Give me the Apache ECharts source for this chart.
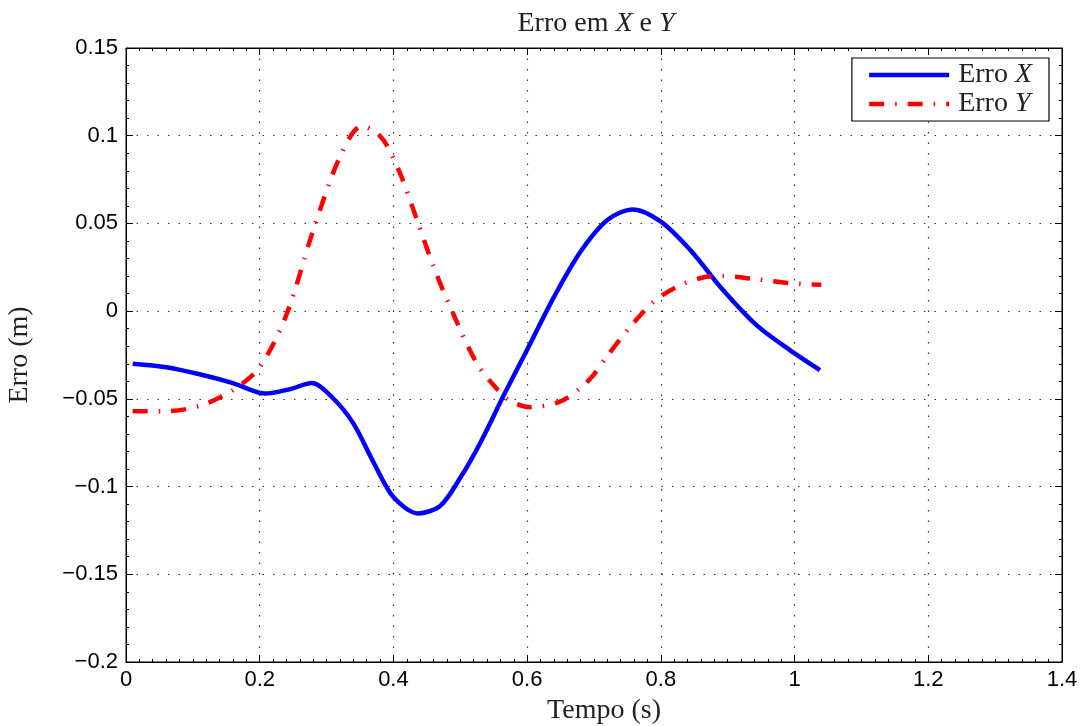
<!DOCTYPE html>
<html><head><meta charset="utf-8">
<script src="https://cdn.jsdelivr.net/npm/echarts@6/dist/echarts.min.js"></script>
<style>html,body{margin:0;padding:0;background:#fff}#c{width:1089px;height:726px}</style>
</head><body><div id="c"></div>
<script>
const tX = [0.01,0.06,0.11,0.16,0.208,0.245,0.278,0.31,0.34,0.37,0.4,0.437,0.47,0.5,0.53,0.565,0.6,0.64,0.68,0.72,0.758,0.8,0.844,0.893,0.943,0.993,1.038];
const errX = [-0.030,-0.032,-0.036,-0.041,-0.047,-0.0445,-0.041,-0.0498,-0.064,-0.086,-0.106,-0.1153,-0.111,-0.095,-0.075,-0.048,-0.022,0.008,0.034,0.052,0.058,0.051,0.0348,0.012,-0.008,-0.0222,-0.0336];
const tY = [0.01,0.06,0.11,0.16,0.2,0.24,0.28,0.32,0.3525,0.375,0.39,0.412,0.437,0.462,0.49,0.525,0.554,0.574,0.605,0.649,0.679,0.699,0.719,0.754,0.789,0.824,0.863,0.894,0.943,0.993,1.04];
const errY = [-0.057,-0.057,-0.054,-0.045,-0.032,-0.002,0.046,0.088,0.1055,0.1017,0.0946,0.0766,0.050,0.0234,-0.002,-0.030,-0.044,-0.051,-0.0548,-0.0516,-0.044,-0.0365,-0.026,-0.009,0.0053,0.0139,0.0192,0.020,0.0182,0.016,0.015];
const seriesNames = ['Erro X','Erro Y'];

const fmt = v => {
  let s = (Math.round(v*100)/100).toString();
  return s.replace('-', '\u2212');
};
const chart = echarts.init(document.getElementById('c'));
const gridLine = {show:true, lineStyle:{color:'#333', type:[1.5,9], width:1.2}};
const serif = 'Liberation Serif';
const tick = {inside:true, length:7, lineStyle:{color:'#000'}};
const minorX = {show:true, splitNumber:10, length:3, lineStyle:{color:'#000'}};
const minorY = {show:true, splitNumber:5, length:3, lineStyle:{color:'#000'}};
chart.setOption({
  animation:false,
  title:{
    text:'{n|Erro em }{i|X}{n| e }{i|Y}',
    left:591, top:5, textAlign:'center',
    textStyle:{fontWeight:'normal', rich:{
      n:{fontFamily:serif, fontSize:28, color:'#222'},
      i:{fontFamily:serif, fontSize:28, fontStyle:'italic', color:'#222'}
    }}
  },
  legend:{
    orient:'vertical', right:40, top:58,
    backgroundColor:'#fff', borderColor:'#000', borderWidth:1.2, borderRadius:0,
    padding:[3,17,3,15], itemGap:1, itemWidth:80, itemHeight:28,
    data:seriesNames,
    itemStyle:{opacity:0},
    lineStyle:{width:4.5},
    formatter: n => '{n|Erro }{i|' + n.slice(5) + '}',
    textStyle:{rich:{
      n:{fontFamily:serif, fontSize:28, lineHeight:28, color:'#222', padding:[0,0,0,4]},
      i:{fontFamily:serif, fontSize:28, lineHeight:28, fontStyle:'italic', color:'#222'}
    }}
  },
  grid:{left:126, right:27, top:48, bottom:64, show:true, borderColor:'#000', borderWidth:1,
        containLabel:false, outerBoundsMode:'none'},
  xAxis:[{
    type:'value', min:0, max:1.4, interval:0.2,
    axisLine:{show:true, onZero:false, lineStyle:{color:'#000'}},
    axisTick:tick, minorTick:minorX,
    axisLabel:{formatter:fmt, fontFamily:'Liberation Sans', fontSize:22, color:'#000', margin:7},
    splitLine:gridLine,
    name:'Tempo (s)', nameLocation:'middle', nameGap:35,
    nameTextStyle:{fontFamily:serif, fontSize:28, color:'#222', padding:[0,0,0,20]}
  },{
    type:'value', position:'top', min:0, max:1.4, interval:0.2,
    axisLine:{show:true, onZero:false, lineStyle:{color:'#000'}},
    axisTick:tick, minorTick:minorX,
    axisLabel:{show:false}, splitLine:{show:false}
  }],
  yAxis:[{
    type:'value', min:-0.2, max:0.15, interval:0.05,
    axisLine:{show:true, onZero:false, lineStyle:{color:'#000'}},
    axisTick:tick, minorTick:minorY,
    axisLabel:{formatter:fmt, fontFamily:'Liberation Sans', fontSize:22, color:'#000', margin:8},
    splitLine:gridLine,
    name:'Erro (m)', nameLocation:'middle', nameGap:92, nameRotate:90,
    nameTextStyle:{fontFamily:serif, fontSize:28, color:'#222'}
  },{
    type:'value', position:'right', min:-0.2, max:0.15, interval:0.05,
    axisLine:{show:true, onZero:false, lineStyle:{color:'#000'}},
    axisTick:tick, minorTick:minorY,
    axisLabel:{show:false}, splitLine:{show:false}
  }],
  series:[{
    name:seriesNames[0], type:'line', symbol:'none', smooth:0.3,
    data:tX.map((t,i)=>[t,errX[i]]),
    itemStyle:{color:'#0000ff'},
    lineStyle:{color:'#0000ff', width:4.5}
  },{
    name:seriesNames[1], type:'line', symbol:'none', smooth:0.3,
    data:tY.map((t,i)=>[t,errY[i]]),
    itemStyle:{color:'#ff0000'},
    lineStyle:{color:'#ff0000', width:4.5, type:[15,11,1.5,11]}
  }]
});
</script></body></html>
